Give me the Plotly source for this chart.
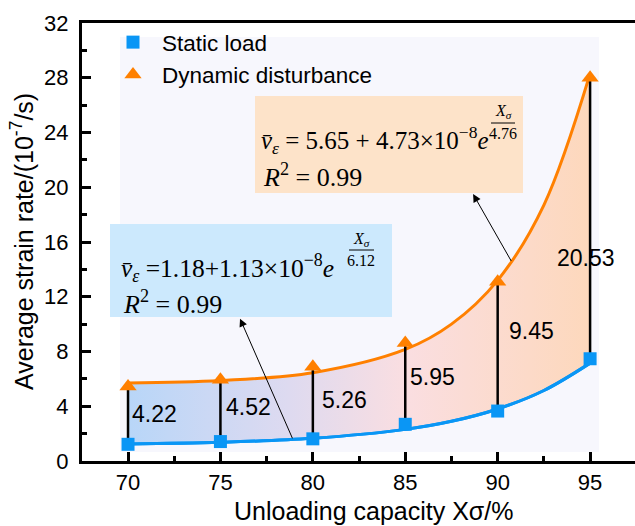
import plotly.graph_objects as go

# ---------------- data ----------------
capacity = [70, 75, 80, 85, 90, 95]
static_load = [1.22, 1.42, 1.62, 2.68, 3.65, 7.47]
dynamic_dist = [5.44, 5.94, 6.88, 8.63, 13.10, 28.00]
diff_labels = ["4.22", "4.52", "5.26", "5.95", "9.45", "20.53"]

fit_x = [70, 75, 80, 85, 87.5, 90, 92.5, 95]
fit_static = [1.25, 1.37, 1.66, 2.31, 2.90, 3.80, 5.15, 7.15]
fit_dynamic = [5.70, 5.88, 6.45, 8.15, 10.00, 13.20, 18.70, 28.30]

x_ticks = [70, 75, 80, 85, 90, 95]
y_ticks = [0, 4, 8, 12, 16, 20, 24, 28, 32]

# ---------------- layout helpers ----------------
L, R, T, B = 82, 635, 23, 461
W, H = 635, 526


def px(xp):
    return (xp - L) / (R - L)


def py(yp):
    return (B - yp) / (B - T)


BLUE = "#0A96F5"
ORANGE = "#FF8000"
SANS = "Liberation Sans, Arial, sans-serif"
SERIF = "Liberation Serif, Times New Roman, serif"

fig = go.Figure()

# blue fit curve
fig.add_trace(go.Scatter(x=fit_x, y=fit_static, mode="lines", line=dict(color=BLUE, width=3, shape="spline"),
                         showlegend=False, hoverinfo="skip"))
# orange fit curve with gradient fill to blue curve
fig.add_trace(go.Scatter(x=fit_x, y=fit_dynamic, mode="lines", line=dict(color=ORANGE, width=3, shape="spline"),
                         fill="tonexty",
                         fillgradient=dict(type="horizontal",
                                           colorscale=[[0, "rgb(184,214,248)"], [0.35, "rgb(222,218,240)"],
                                                       [0.6, "rgb(250,222,225)"], [1, "rgb(253,216,188)"]]),
                         showlegend=False, hoverinfo="skip"))
# blue curve again on top of fill
fig.add_trace(go.Scatter(x=fit_x, y=fit_static, mode="lines", line=dict(color=BLUE, width=3, shape="spline"),
                         showlegend=False, hoverinfo="skip"))

# vertical difference lines
vx, vy = [], []
for xc, s, d in zip(capacity, static_load, dynamic_dist):
    vx += [xc, xc, None]
    vy += [s, d, None]
fig.add_trace(go.Scatter(x=vx, y=vy, mode="lines", line=dict(color="black", width=2.5),
                         showlegend=False, hoverinfo="skip"))

# markers
fig.add_trace(go.Scatter(x=capacity, y=static_load, mode="markers", name="Static load",
                         marker=dict(symbol="square", size=13, color=BLUE)))
fig.add_trace(go.Scatter(x=capacity, y=dynamic_dist, mode="markers", name="Dynamic disturbance",
                         marker=dict(symbol="triangle-up", size=15, color=ORANGE)))

# difference labels
label_pos = [(3.43, "left", 2), (3.96, "left", 4), (4.45, "left", 7), (6.12, "left", 3), (9.48, "left", 9),
             (14.8, "center", -4)]
for xc, txt, (ly, anc, sh) in zip(capacity, diff_labels, label_pos):
    fig.add_annotation(x=xc, y=ly, text=txt, showarrow=False, xanchor=anc, yanchor="middle", xshift=sh,
                       font=dict(family=SANS, size=23, color="black"))

shapes = []
# light background panel
shapes.append(dict(type="rect", xref="paper", yref="paper", x0=px(120), x1=px(599), y0=py(452), y1=py(37),
                   fillcolor="#F7F7FD", line=dict(width=0), layer="below"))
# equation boxes
shapes.append(dict(type="rect", xref="paper", yref="paper", x0=px(255), x1=px(523), y0=py(193), y1=py(96),
                   fillcolor="#FDE3C9", line=dict(width=0), layer="above"))
shapes.append(dict(type="rect", xref="paper", yref="paper", x0=px(110), x1=px(392), y0=py(317), y1=py(224),
                   fillcolor="#CCE9FD", line=dict(width=0), layer="above"))
# fraction bars
shapes.append(dict(type="line", xref="paper", yref="paper", x0=px(491), x1=px(515), y0=py(123), y1=py(123),
                   line=dict(color="black", width=1), layer="above"))
shapes.append(dict(type="line", xref="paper", yref="paper", x0=px(349), x1=px(374), y0=py(250), y1=py(250),
                   line=dict(color="black", width=1), layer="above"))


def eq(xp, yp, text, size=26, anchor="left"):
    fig.add_annotation(xref="paper", yref="paper", x=px(xp), y=py(yp), text=text, showarrow=False,
                       xanchor=anchor, yanchor="middle", font=dict(family=SERIF, size=size, color="black"))


# orange equation
eq(259, 140, "<i>v\u0304</i><sub><i>ε</i></sub> = 5.65 + 4.73×10<sup>−8</sup><i>e</i>", 25)
eq(503, 111, "<i>X</i><sub><i>σ</i></sub>", 16, "center")
eq(503, 133, "4.76", 16, "center")
eq(261, 176, "<i>R</i><sup>2</sup> = 0.99", 26)
# blue equation
eq(119, 268, "<i>v\u0304</i><sub><i>ε</i></sub> =1.18+1.13×10<sup>−8</sup><i>e</i>", 25.5)
eq(361, 239, "<i>X</i><sub><i>σ</i></sub>", 16, "center")
eq(361, 260, "6.12", 16, "center")
eq(121, 302, "<i>R</i><sup>2</sup> = 0.99", 26)

# arrows (tip at box, tail at curve)
fig.add_annotation(x=88.67, y=19.5, ax=90.78, ay=14.5, xref="x", yref="y", axref="x", ayref="y", text="",
                   showarrow=True, arrowhead=2, arrowsize=1.6, arrowwidth=1, arrowcolor="black")
fig.add_annotation(x=76.06, y=10.4, ax=78.93, ay=1.55, xref="x", yref="y", axref="x", ayref="y", text="",
                   showarrow=True, arrowhead=2, arrowsize=1.6, arrowwidth=1, arrowcolor="black")

# axis titles
fig.add_annotation(xref="paper", yref="paper", x=px(373), y=py(511), text="Unloading capacity Xσ/%",
                   showarrow=False, xanchor="center", yanchor="middle", font=dict(family=SANS, size=25, color="black"))
fig.add_annotation(xref="paper", yref="paper", x=px(22), y=py(242), text="Average strain rate/(10<sup>-7</sup>/s)",
                   textangle=-90, showarrow=False, xanchor="center", yanchor="middle",
                   font=dict(family=SANS, size=25, color="black"))

fig.update_layout(
    width=W, height=H,
    margin=dict(l=L, r=W - R, t=T, b=H - B),
    paper_bgcolor="white", plot_bgcolor="white",
    shapes=shapes,
    showlegend=True,
    legend=dict(x=px(104), y=py(21), xanchor="left", yanchor="top", bgcolor="rgba(0,0,0,0)",
                font=dict(family=SANS, size=22.5, color="black"), itemwidth=48, traceorder="normal",
                tracegroupgap=0),
    xaxis=dict(range=[67.51, 97.43], tickvals=x_ticks, ticktext=[str(v) for v in x_ticks],
               ticks="inside", ticklen=9, tickwidth=2.5, tickcolor="black",
               minor=dict(ticks="inside", ticklen=5, tickwidth=2.5, tickcolor="black", dtick=2.5, tick0=67.5),
               showline=True, linewidth=3, linecolor="black", mirror=True, showgrid=False, zeroline=False,
               tickfont=dict(family=SANS, size=22, color="black")),
    yaxis=dict(range=[0, 32], tickvals=y_ticks, ticks="inside", ticklen=9, tickwidth=2.5, tickcolor="black",
               minor=dict(ticks="inside", ticklen=5, tickwidth=2.5, tickcolor="black", dtick=2, tick0=0),
               showline=True, linewidth=3, linecolor="black", mirror=False, showgrid=False, zeroline=False,
               ticklabelstandoff=6,
               tickfont=dict(family=SANS, size=22, color="black")),
)

fig.write_html("out.html")
